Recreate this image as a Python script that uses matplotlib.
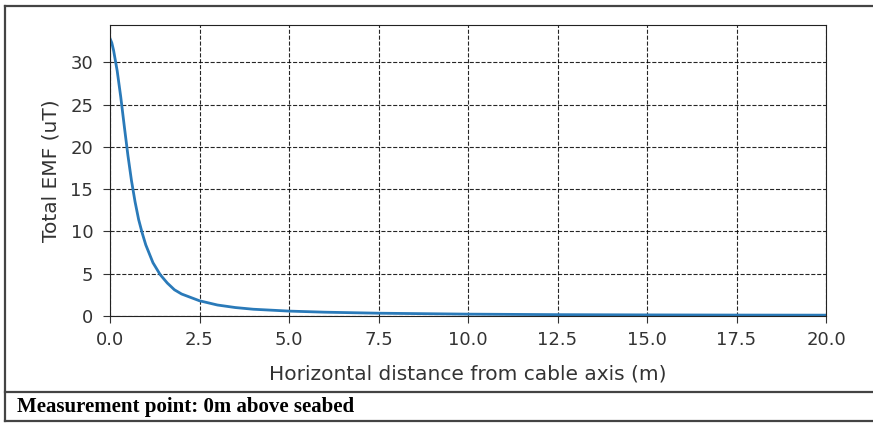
import matplotlib
matplotlib.use('Agg')
import matplotlib.pyplot as plt
from matplotlib.lines import Line2D

# values
distance = [0.0, 0.05, 0.1, 0.2, 0.3, 0.4, 0.5, 0.6, 0.7, 0.8, 0.9, 1.0, 1.2, 1.4, 1.6,
            1.8, 2.0, 2.5, 3.0, 3.5, 4.0, 5.0, 6.0, 7.5, 10.0, 12.5, 15.0, 17.5, 20.0]
emf = [32.8, 32.3, 31.4, 29.0, 25.9, 22.4, 19.0, 16.0, 13.5, 11.4, 9.8, 8.4, 6.3, 4.9, 3.9,
       3.1, 2.6, 1.8, 1.3, 1.0, 0.8, 0.58, 0.45, 0.33, 0.22, 0.16, 0.13, 0.11, 0.1]
xticks = [0.0, 2.5, 5.0, 7.5, 10.0, 12.5, 15.0, 17.5, 20.0]
yticks = [0, 5, 10, 15, 20, 25, 30]
caption = "Measurement point: 0m above seabed"

W, H = 873, 423
fig = plt.figure(figsize=(W / 100, H / 100), dpi=100)
ax = fig.add_axes([110 / W, 1 - 316 / H, (826 - 110) / W, (316 - 25) / H])

ax.plot(distance, emf, color='#2a7ab9', linewidth=2)
ax.set_xlim(0, 20)
ax.set_ylim(0, 34.4)
ax.set_xticks(xticks)
ax.set_xticklabels(['%.1f' % v for v in xticks])
ax.set_yticks(yticks)
ax.grid(True, color='black', linestyle='--', linewidth=0.8, alpha=0.85)
ax.tick_params(labelsize=13, colors='#333333', length=5)
ax.tick_params(axis='x', pad=6)
ax.tick_params(axis='y', pad=7)
ax.set_xlabel('Horizontal distance from cable axis (m)', fontsize=14.5, color='#333333', labelpad=11)
ax.set_ylabel('Total EMF (uT)', fontsize=14.5, color='#333333', labelpad=7)
for s in ax.spines.values():
    s.set_color('#222222')

# outer table-like frame
def hline(y, x0=5, x1=W):
    fig.add_artist(Line2D([x0 / W, x1 / W], [1 - y / H, 1 - y / H],
                          color='#444444', linewidth=1.6))

hline(6)
hline(392)
hline(421)
fig.add_artist(Line2D([5 / W, 5 / W], [1 - 6 / H, 1 - 421 / H], color='#444444', linewidth=1.6))

fig.text(17 / W, 1 - 407 / H, caption, fontsize=15, fontweight='bold',
         family='Liberation Serif', va='center', ha='left', color='black')

fig.savefig('out.png', dpi=100)
